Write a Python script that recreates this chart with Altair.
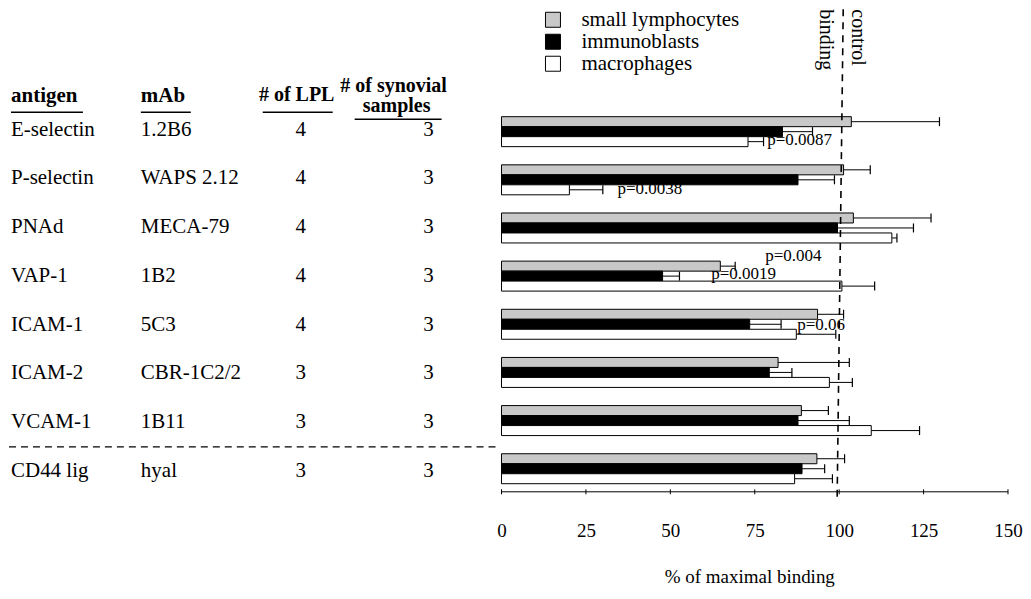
import altair as alt
import pandas as pd

# ---------------- data ----------------
antigens = ["E-selectin", "P-selectin", "PNAd", "VAP-1", "ICAM-1", "ICAM-2", "VCAM-1", "CD44 lig"]
mabs = ["1.2B6", "WAPS 2.12", "MECA-79", "1B2", "5C3", "CBR-1C2/2", "1B11", "hyal"]
n_lpl = [4, 4, 4, 4, 4, 3, 3, 3]
n_syn = [3, 3, 3, 3, 3, 3, 3, 3]
series = ["small lymphocytes", "immunoblasts", "macrophages"]
small_lymph = [103.6, 101.3, 104.2, 64.8, 93.6, 81.9, 88.8, 93.4]
small_lymph_err = [129.7, 109.2, 127.2, 69.2, 101.3, 103.0, 96.8, 101.6]
immunoblasts = [83.2, 87.8, 99.5, 47.7, 73.5, 79.3, 87.8, 89.0]
immunoblasts_err = [92.1, 98.6, 122.0, 52.7, 82.8, 86.0, 103.0, 95.7]
macrophages = [73.0, 20.1, 115.6, 100.8, 87.3, 97.1, 109.5, 86.8]
macrophages_err = [77.6, 30.0, 117.1, 110.5, 99.0, 103.9, 123.8, 98.0]
x_ticks = [0, 25, 50, 75, 100, 125, 150]
p_labels = ["p=0.0087", "p=0.0038", "p=0.004", "p=0.0019", "p=0.06"]
control_level = 100
header_left = ["antigen", "mAb"]
header_lpl = ["# of LPL"]
header_syn = ["# of synovial", "samples"]
control_text = ["control", "binding"]

# ---------------- layout ----------------
FONT = "Liberation Serif"
PX_PER_X = 3.38
W = 1014
XMIN = -(501 - 8) / PX_PER_X
XMAX = XMIN + W / PX_PER_X
ROW_PX = 48.2
ROW0 = 130.5
YMIN = -(ROW0 - 8) / ROW_PX
H = 488
YMAX = YMIN + H / ROW_PX


def px_x(p):
    return XMIN + (p - 8) / PX_PER_X


def px_y(p):
    return YMIN + (p - 8) / ROW_PX


BAR_STEP = 10 / ROW_PX
HALF = 5 / ROW_PX
CAP = 4.5 / ROW_PX

xs = alt.Scale(domain=[XMIN, XMAX], nice=False, zero=False)
ys = alt.Scale(domain=[YMIN, YMAX], nice=False, zero=False, reverse=True)
xaxis = alt.Axis(values=x_ticks, domain=False, ticks=False, tickSize=0, grid=False,
                 labelFont=FONT, labelFontSize=19, labelColor="black", labelPadding=25,
                 title="% of maximal binding", titleFont=FONT, titleFontSize=19,
                 titleFontWeight="normal", titleColor="black", titleX=741, titleY=80,
                 titleBaseline="middle")


def X(f):
    return alt.X(f, type="quantitative", scale=xs, axis=xaxis)


def Y(f):
    return alt.Y(f, type="quantitative", scale=ys, axis=None)


# bars
offsets = {series[0]: -BAR_STEP, series[1]: 0.0, series[2]: BAR_STEP}
vals = {series[0]: (small_lymph, small_lymph_err),
        series[1]: (immunoblasts, immunoblasts_err),
        series[2]: (macrophages, macrophages_err)}
recs = []
for s in series:
    v, e = vals[s]
    for i in range(len(antigens)):
        yc = i + offsets[s]
        recs.append(dict(antigen=antigens[i], series=s, value=v[i], err=e[i], zero=0,
                         yc=yc, ylo=yc - HALF, yhi=yc + HALF, clo=yc - CAP, chi=yc + CAP))
bars_df = pd.DataFrame(recs)

fill = alt.Fill("series:N",
                scale=alt.Scale(domain=series, range=["#c8c8c8", "#000000", "#ffffff"]),
                sort=series,
                legend=alt.Legend(orient="none", legendX=534, legendY=0, title=None,
                                  symbolType="square", symbolSize=225, symbolStrokeColor="black",
                                  symbolStrokeWidth=1, symbolOpacity=1, labelFont=FONT,
                                  labelFontSize=21, labelColor="black", labelOffset=18,
                                  rowPadding=0, padding=0))

err_lines = alt.Chart(bars_df).mark_rule(color="black", strokeWidth=1).encode(
    x=X("value"), x2="err", y=Y("yc"))
err_caps = alt.Chart(bars_df).mark_rule(color="black", strokeWidth=1.2).encode(
    x=X("err"), y=Y("clo"), y2="chi")
bars = alt.Chart(bars_df).mark_rect(stroke="black", strokeWidth=1, opacity=1).encode(
    x=X("zero"), x2="value", y=Y("ylo"), y2="yhi", fill=fill)

# table rows
tbl = pd.DataFrame({"antigen": antigens, "mab": mabs,
                    "lpl": [str(v) for v in n_lpl], "syn": [str(v) for v in n_syn]})
tbl["y"] = [px_y(128.5 + 48.8 * i) for i in range(len(antigens))]
tbl["x_ant"] = px_x(10)
tbl["x_mab"] = px_x(140)
tbl["x_lpl"] = px_x(300)
tbl["x_syn"] = px_x(428)

tkw = dict(font=FONT, fontSize=21, color="black", baseline="middle")
t_ant = alt.Chart(tbl).mark_text(align="left", **tkw).encode(x=X("x_ant"), y=Y("y"), text="antigen")
t_mab = alt.Chart(tbl).mark_text(align="left", **tkw).encode(x=X("x_mab"), y=Y("y"), text="mab")
t_lpl = alt.Chart(tbl).mark_text(align="center", **tkw).encode(x=X("x_lpl"), y=Y("y"), text="lpl")
t_syn = alt.Chart(tbl).mark_text(align="center", **tkw).encode(x=X("x_syn"), y=Y("y"), text="syn")

# headers
hl = pd.DataFrame({"t": header_left, "x": [px_x(10), px_x(140)], "y": [px_y(95)] * 2})
hp = pd.DataFrame({"t": header_lpl, "x": [px_x(296)], "y": [px_y(94)]})
hs = pd.DataFrame({"t": header_syn, "x": [px_x(393), px_x(396)], "y": [px_y(85), px_y(105)]})
hkw = dict(font=FONT, fontWeight="bold", color="black", baseline="middle")
h_left = alt.Chart(hl).mark_text(align="left", fontSize=21, **hkw).encode(x=X("x"), y=Y("y"), text="t")
h_lpl = alt.Chart(hp).mark_text(align="center", fontSize=20, **hkw).encode(x=X("x"), y=Y("y"), text="t")
h_syn = alt.Chart(hs).mark_text(align="center", fontSize=20, **hkw).encode(x=X("x"), y=Y("y"), text="t")
ul = pd.DataFrame({"x": [px_x(10), px_x(140), px_x(262), px_x(354)],
                   "x2": [px_x(82), px_x(190), px_x(332), px_x(441)],
                   "y": [px_y(111), px_y(111), px_y(111), px_y(118)]})
underlines = alt.Chart(ul).mark_rule(color="black", strokeWidth=1.5).encode(
    x=X("x"), x2="x2", y=Y("y"))

# separator between adhesion molecules and CD44 ligand
sep = alt.Chart(pd.DataFrame({"x": [px_x(8)], "x2": [px_x(497)], "y": [px_y(446)]})).mark_rule(
    color="black", strokeWidth=1.4, strokeDash=[7, 5]).encode(x=X("x"), x2="x2", y=Y("y"))

# control binding line (slightly slanted as in the scan)
ctrl = alt.Chart(pd.DataFrame({"x": [control_level + 1.2], "x2": [control_level - 0.6],
                               "y": [px_y(8)], "y2": [px_y(497)]})).mark_rule(
    color="black", strokeWidth=1.6, strokeDash=[7, 6]).encode(x=X("x"), x2="x2", y=Y("y"), y2="y2")
ctrl_txt = alt.Chart(pd.DataFrame({"t": control_text, "x": [px_x(858), px_x(826)],
                                   "y": [px_y(8), px_y(8)]})).mark_text(
    font=FONT, fontSize=20, color="black", angle=90, align="left", baseline="middle").encode(
    x=X("x"), y=Y("y"), text="t")

# p-value annotations
pdf = pd.DataFrame({"t": p_labels,
                    "x": [px_x(767), px_x(617), px_x(765), px_x(711), px_x(797)],
                    "y": [px_y(139), px_y(188), px_y(255), px_y(273), px_y(324)]})
ptxt = alt.Chart(pdf).mark_text(font=FONT, fontSize=17, color="black", align="left",
                                baseline="middle").encode(x=X("x"), y=Y("y"), text="t")

# axis line + ticks
ay = px_y(491)
axis_line = alt.Chart(pd.DataFrame({"x": [x_ticks[0]], "x2": [x_ticks[-1]], "y": [ay]})).mark_rule(
    color="black", strokeWidth=1).encode(x=X("x"), x2="x2", y=Y("y"))
tick_df = pd.DataFrame({"x": x_ticks, "y": ay - 2.5 / ROW_PX, "y2": ay + 2.5 / ROW_PX})
axis_ticks = alt.Chart(tick_df).mark_rule(color="black", strokeWidth=1).encode(
    x=X("x"), y=Y("y"), y2="y2")

chart = alt.layer(
    err_lines, bars, err_caps, t_ant, t_mab, t_lpl, t_syn, h_left, h_lpl, h_syn, underlines,
    sep, ctrl, ctrl_txt, ptxt, axis_line, axis_ticks
).properties(width=W, height=H, padding=0, background="white").configure_view(stroke=None)

chart.save("out.html", embed_options={"renderer": "svg", "actions": False})
